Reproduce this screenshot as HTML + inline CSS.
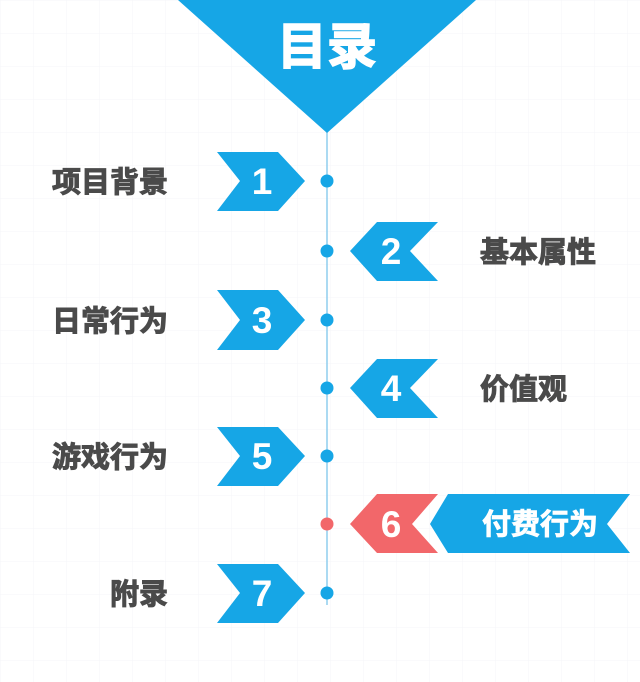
<!DOCTYPE html>
<html><head><meta charset="utf-8"><style>
html,body{margin:0;padding:0;background:#fff;}
svg{display:block}
text{font-family:"Liberation Sans","Noto Sans CJK SC",sans-serif;font-weight:bold}
</style></head><body>
<svg width="640" height="682" viewBox="0 0 640 682">
<defs><pattern id="g" width="33" height="33" patternUnits="userSpaceOnUse"><path d="M0 0H33M0 0V33" stroke="#f4f5f8" stroke-width="1" fill="none"/></pattern></defs>
<rect width="640" height="682" fill="url(#g)"/>
<line x1="327" y1="130" x2="327" y2="605" stroke="#8fcdee" stroke-width="1.5"/>
<polygon points="178,0 476,0 327,133" fill="#16a6e6"/>
<text x="327" y="64" font-size="50" fill="#fff" stroke="#fff" stroke-width="1.5" text-anchor="middle">目录</text>
<g fill="#16a6e6">
<polygon points="217,152 278,152 305,181 278,211 217,211 240,181"/>
<polygon points="217,290 278,290 305,320 278,350 217,350 240,320"/>
<polygon points="217,427 278,427 305,456 278,486 217,486 240,456"/>
<polygon points="217,564 278,564 305,593 278,623 217,623 240,593"/>
<polygon points="438,222 377,222 350,251 377,281 438,281 410,251"/>
<polygon points="438,359 377,359 350,388 377,418 438,418 410,388"/>
<polygon points="448,494 630,494 607,524 630,553 448,553 430,524"/>
<circle cx="327" cy="181" r="6.5"/><circle cx="327" cy="251" r="6.5"/>
<circle cx="327" cy="320" r="6.5"/><circle cx="327" cy="388" r="6.5"/>
<circle cx="327" cy="456" r="6.5"/><circle cx="327" cy="593" r="6.5"/>
</g>
<polygon points="438,494 377,494 350,524 377,553 438,553 412,524" fill="#f2676a"/>
<circle cx="327" cy="524" r="6.5" fill="#f2676a"/>
<g fill="#fff" font-size="37" text-anchor="middle">
<text x="262" y="194">1</text><text x="391" y="264">2</text>
<text x="262" y="333">3</text><text x="391" y="401">4</text>
<text x="262" y="469">5</text><text x="391" y="537">6</text>
<text x="262" y="606">7</text>
</g>
<text x="540" y="534" font-size="29" fill="#fff" stroke="#fff" stroke-width="0.8" text-anchor="middle">付费行为</text>
<g fill="#4a4a4a" stroke="#4a4a4a" stroke-width="1" font-size="29">
<text x="168" y="192" text-anchor="end">项目背景</text>
<text x="168" y="331" text-anchor="end">日常行为</text>
<text x="168" y="467" text-anchor="end">游戏行为</text>
<text x="168" y="604" text-anchor="end">附录</text>
<text x="480" y="262">基本属性</text>
<text x="480" y="399">价值观</text>
</g>
</svg>
</body></html>
